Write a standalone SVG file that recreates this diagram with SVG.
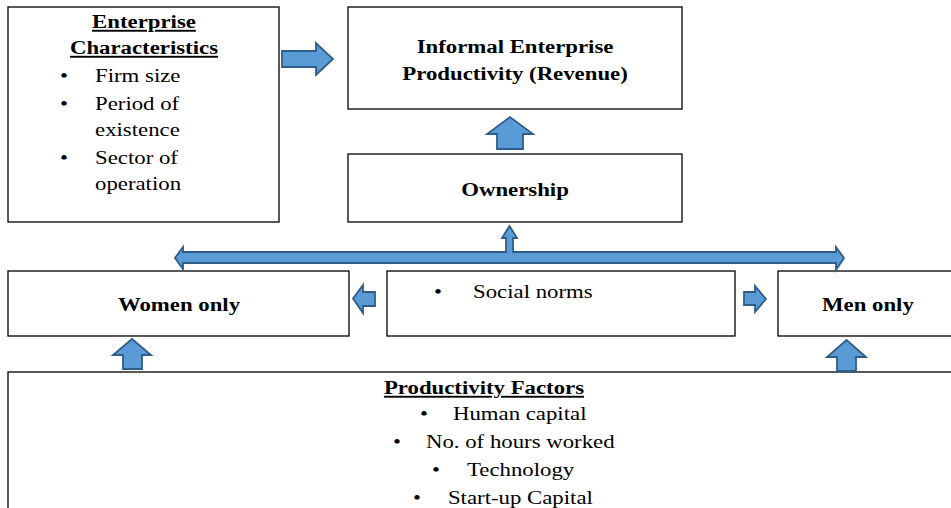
<svg xmlns="http://www.w3.org/2000/svg" width="951" height="508" viewBox="0 0 951 508">
  <style>
    .box { fill: #ffffff; stroke: #000000; stroke-width: 1.3; }
    .arrow { fill: #5b9bd5; stroke: #2f5d8a; stroke-width: 1.8; stroke-linejoin: miter; }
    .t { font-family: "Liberation Serif", "Times New Roman", Times, "DejaVu Serif", serif; font-size: 19px; fill: #000; }
    .b { font-weight: bold; }
    .c { text-anchor: middle; }
    .u { text-decoration: underline; }
  </style>

  <rect width="951" height="508" fill="#ffffff"/>

  <!-- Nodes (labels are set in a horizontally widened text frame: x values are divided by 1.2) -->
  <g id="enterprise-characteristics">
    <rect class="box" x="8" y="7" width="271" height="215"/>
    <g transform="scale(1.2,1)" font-family="Liberation Serif, serif">
      <text class="t b c u" x="120" y="28">Enterprise</text>
      <text class="t b c u" x="120" y="54">Characteristics</text>
      <text class="t" x="50" y="82">•</text><text class="t" x="79.2" y="82">Firm size</text>
      <text class="t" x="50" y="110">•</text><text class="t" x="79.2" y="110">Period of</text>
      <text class="t" x="79.2" y="136">existence</text>
      <text class="t" x="50" y="164">•</text><text class="t" x="79.2" y="164">Sector of</text>
      <text class="t" x="79.2" y="190">operation</text>
    </g>
  </g>

  <g id="productivity">
    <rect class="box" x="348" y="7" width="334" height="102"/>
    <g transform="scale(1.2,1)">
      <text class="t b c" x="429.2" y="53">Informal Enterprise</text>
      <text class="t b c" x="429.2" y="80">Productivity (Revenue)</text>
    </g>
  </g>

  <g id="ownership">
    <rect class="box" x="348" y="154" width="334" height="68"/>
    <g transform="scale(1.2,1)">
      <text class="t b c" x="429.2" y="196">Ownership</text>
    </g>
  </g>

  <g id="women-only">
    <rect class="box" x="8" y="271" width="341" height="65"/>
    <g transform="scale(1.2,1)">
      <text class="t b c" x="149.2" y="311">Women only</text>
    </g>
  </g>

  <g id="social-norms">
    <rect class="box" x="387" y="271" width="348" height="65"/>
    <g transform="scale(1.2,1)">
      <text class="t" x="361.7" y="298">•</text>
      <text class="t" x="394.2" y="298">Social norms</text>
    </g>
  </g>

  <g id="men-only">
    <rect class="box" x="778" y="271" width="180" height="65"/>
    <g transform="scale(1.2,1)">
      <text class="t b c" x="723.3" y="311">Men only</text>
    </g>
  </g>

  <g id="productivity-factors">
    <rect class="box" x="8" y="372" width="950" height="150"/>
    <g transform="scale(1.2,1)">
      <text class="t b c u" x="403.3" y="394">Productivity Factors</text>
      <text class="t" x="350" y="420">•</text><text class="t" x="377.5" y="420">Human capital</text>
      <text class="t" x="327.5" y="448">•</text><text class="t" x="355" y="448">No. of hours worked</text>
      <text class="t" x="360" y="476">•</text><text class="t" x="389.2" y="476">Technology</text>
      <text class="t" x="344.2" y="504">•</text><text class="t" x="373.3" y="504">Start-up Capital</text>
    </g>
  </g>

  <!-- Connectors -->
  <g id="connectors">
    <!-- characteristics to productivity -->
    <polygon class="arrow" points="282,51 316,51 316,43 333,59 316,75 316,67 282,67"/>
    <!-- ownership to productivity -->
    <polygon class="arrow" points="497,149 497,134 487,134 510,117 533,134 523,134 523,149"/>
    <!-- women/men bar with branch up to ownership -->
    <polygon class="arrow" points="175,258 183,247 183,252 506,252 506,238 502,238 509.5,226 517,238 513,238 513,252 836,252 836,247 844,258 836,270 836,263 183,263 183,269"/>
    <!-- social norms to women only -->
    <polygon class="arrow" points="375,292 363,292 363,285 353,298.5 363,313 363,306 375,306"/>
    <!-- social norms to men only -->
    <polygon class="arrow" points="744,292 755,292 755,286 766,299 755,312 755,305 744,305"/>
    <!-- factors to women only -->
    <polygon class="arrow" points="123,369 123,355 113,355 132,339 151,355 142,355 142,369"/>
    <!-- factors to men only -->
    <polygon class="arrow" points="837,371 837,357 827,357 846.5,340 866,357 856,357 856,371"/>
  </g>
</svg>
